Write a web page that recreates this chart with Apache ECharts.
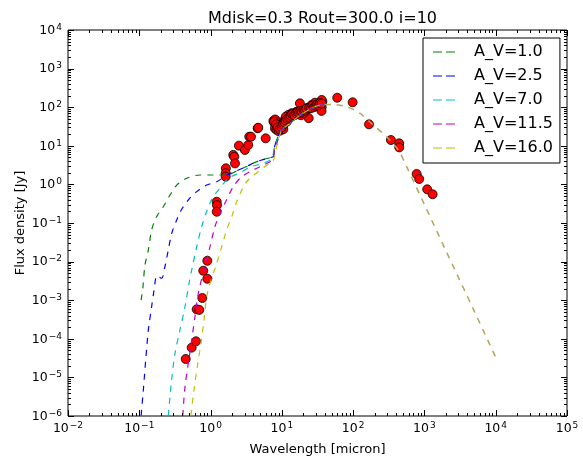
<!DOCTYPE html>
<html><head><meta charset="utf-8">
<script src="https://cdn.jsdelivr.net/npm/echarts@6/dist/echarts.min.js"></script>
<style>html,body{margin:0;padding:0;background:#fff}#c{width:583px;height:459px}</style>
</head><body><div id="c"></div>
<script>
// ---------- data ----------
const chartTitle = 'Mdisk=0.3 Rout=300.0 i=10';
const xName = 'Wavelength [micron]';
const yName = 'Flux density [Jy]';
const seriesNames = ['A_V=1.0', 'A_V=2.5', 'A_V=7.0', 'A_V=11.5', 'A_V=16.0'];
const seriesColors = ['#008000', '#0000ff', '#00bfbf', '#bf00bf', '#bfbf00'];
const mergedColor = '#b3a55a';

// model SEDs  [wavelength micron, flux Jy]
const modelAV1 = [[0.106,1.0e-3],[0.112,2.0e-3],[0.120,8.0e-3],[0.134,0.020],[0.149,0.066],[0.175,0.146],[0.217,0.264],[0.27,0.53],[0.335,0.96],[0.463,1.44],[0.71,1.75],[1.09,1.75],[1.51,1.75]];
const modelAV25 = [[0.104,5e-7],[0.106,1e-6],[0.114,4.7e-6],[0.123,2.8e-5],[0.134,1.7e-4],[0.149,6.8e-4],[0.161,1.8e-3],[0.177,4.3e-3],[0.206,3.7e-3],[0.229,7.4e-3],[0.255,0.02],[0.285,0.054],[0.335,0.12],[0.39,0.22],[0.49,0.40],[0.64,0.65],[0.88,0.96],[1.22,1.17]];
const modelLowAVmid = [[1.7,1.75],[2.5,2.4],[3.2,2.9],[4.0,3.6],[5.2,4.3],[6.8,4.9],[7.6,5.3],[7.9,9.5],[9.4,23]];
const modelAV7 = [[0.25,5e-7],[0.255,1e-6],[0.284,8.5e-6],[0.317,4.2e-5],[0.372,1.7e-4],[0.438,6.8e-4],[0.498,2.7e-3],[0.543,6e-3],[0.638,0.024],[0.75,0.08],[0.90,0.22],[1.09,0.48],[1.35,0.79],[1.77,1.44],[2.58,2.0],[3.77,2.9],[5.5,3.5],[7.2,4.7],[7.8,8],[9.4,22]];
const modelAV115 = [[0.40,5e-7],[0.407,1e-6],[0.438,5.8e-6],[0.487,2.3e-5],[0.543,9.3e-5],[0.604,3.7e-4],[0.673,1.5e-3],[0.83,7.4e-3],[0.98,0.024],[1.15,0.08],[1.36,0.18],[1.68,0.40],[2.08,0.87],[2.73,1.58],[3.97,2.36],[5.8,3.3],[7.3,4.3],[7.9,7.5],[9.5,22]];
const modelAV16 = [[0.52,5e-7],[0.53,1e-6],[0.585,4.7e-6],[0.65,1.9e-5],[0.733,7.6e-5],[0.81,3.1e-4],[0.90,1.5e-3],[1.22,9.1e-3],[1.43,0.024],[1.68,0.066],[1.98,0.145],[2.32,0.35],[2.88,0.87],[3.38,1.3],[3.97,1.7],[5.8,2.9],[7.5,4],[8.1,7],[9.6,22]];
// shared long-wavelength part of all models (where the curves coincide)
const modelTailNear = [[9.9,26],[13,38],[18,62],[25,90],[31,108],[40,117]];
const modelTailFar = [[40,117],[52,118],[81,103],[124,70],[191,34.6],[295,17.2],[429,7.8],[563,2.88],[1000,0.30],[2000,0.0192],[5000,5.2e-4],[10000,3.3e-5]];

// observed photometry [wavelength micron, flux Jy]
const obsOptical = [[0.448,3.0e-5],[0.543,5.9e-5],[0.624,8.6e-5],[0.638,5.8e-4],[0.695,5.6e-4],[0.766,1.14e-3],[0.79,5.8e-3],[0.90,1.05e-2],[0.90,3.6e-3]];
const obsNearIR = [[1.22,0.356],[1.23,0.29],[1.22,0.196],[1.64,2.61],[1.63,1.94],[1.63,1.59],[2.08,5.8],[2.15,5.2],[2.20,3.5],[2.50,10.1],[3.03,7.8],[3.38,10.5],[3.49,17.2],[3.69,17.2],[4.58,28.4],[4.67,29.4],[5.93,15.6]];
const obsSpectrum = [[7.6,44],[7.9,38],[8.2,46],[8.5,40],[8.8,33],[9.1,30],[9.4,28],[9.7,34],[10.0,38],[10.3,31],[10.7,44],[11.1,48],[11.5,52],[12.0,46],[12.5,58],[13.0,55],[13.6,64],[14.2,60],[14.8,68],[15.5,72],[16.2,66],[17.0,78],[17.8,74],[18.7,84],[19.6,80],[20.6,90],[21.6,86],[22.7,96],[23.8,52],[25.0,100],[26.3,108],[27.6,104],[29.0,118],[30.5,112],[32.0,124],[33.6,120],[35.3,132],[37.0,140],
  [8.0,48],[8.0,28.4],[8.4,26],[9.0,24],[9.6,25],[10.5,27],[11.7,42],[13.7,70],[16.1,76],[17.9,126],[26.2,114],[29.1,131],[36.2,154],[36.2,100],[36.0,80],[22.3,85],[12.3,63],[11.4,57],[18.5,62],[20.0,70],
  [7.8,42],[8.3,36],[8.7,30],[9.3,27],[9.9,30],[10.4,36],[10.9,40],[11.3,45],[11.9,50],[12.7,54],[13.3,60],[14.0,66],[15.0,62],[15.8,70],[16.6,74],[17.4,70],[18.2,80],[19.1,76],[20.2,84],[21.1,82],[22.1,92],[24.3,96],[25.6,94],[27.0,110],[28.3,100],[29.8,108],[31.2,118],[32.8,114],[34.4,128],[36.1,124]];
const obsFarIR = [[59.8,176],[98.4,134],[167,36],[339,14.1],[443,11.6],[443,9.1],[778,1.86],[845,1.38],[1094,0.746],[1303,0.555]];

// axis decades
const xDecades = [0.01, 0.1, 1, 10, 100, 1000, 10000, 100000];
const yDecades = [1e-6, 1e-5, 1e-4, 1e-3, 1e-2, 1e-1, 1, 10, 100, 1000, 10000];

// ---------- build ----------
const FONT = 'DejaVu Sans';
function withTail(a, b) { return (b ? a.concat(b) : a).concat(modelTailNear); }
const curves = [
  withTail(modelAV1, modelLowAVmid),
  withTail(modelAV25, modelLowAVmid),
  withTail(modelAV7),
  withTail(modelAV115),
  withTail(modelAV16)
];
function tickItems(decades, axis) {
  const out = [];
  decades.forEach((d, i) => {
    out.push(axis === 'x' ? [d, 1, 1] : [1, d, 1]);
    if (i < decades.length - 1) {
      for (let k = 2; k <= 9; k++) {
        const v = d * k;
        out.push(axis === 'x' ? [v, 1, 0] : [1, v, 0]);
      }
    }
  });
  return out;
}
function supLabel(v) {
  const e = Math.round(Math.log10(v));
  const s = e < 0 ? '\u2212' + (-e) : String(e);
  return '{b|10}{s|' + s + '}';
}
const richLab = {
  b: { fontSize: 12.5, fontFamily: FONT, color: '#000', lineHeight: 14, verticalAlign: 'bottom' },
  s: { fontSize: 9, fontFamily: FONT, color: '#000', lineHeight: 9, verticalAlign: 'top', padding: [0, 0, 0, 1] }
};
const legendIcon = 'path://M0 0H9V1H0Z M13 0H22V1H13Z';
const lineSeries = curves.map((c, i) => ({
  name: seriesNames[i], type: 'line', data: c, symbol: 'none', smooth: 0.3,
  z: 3 + i, clip: true,
  lineStyle: { color: seriesColors[i], width: 1.2, type: [6, 6] },
  itemStyle: { color: seriesColors[i] }
}));
const tailSeries = {
  name: 'merged', type: 'line', data: modelTailFar, symbol: 'none', smooth: 0.3, z: 8, clip: true,
  lineStyle: { color: mergedColor, width: 1.5, type: [6, 6] }
};
const dotStyle = { color: '#ff0000', borderColor: '#000', borderWidth: 0.8, opacity: 1 };
const obsAll = obsOptical.concat(obsNearIR, obsSpectrum, obsFarIR);
const tickRender = (axis) => (params, api) => {
  const cs = params.coordSys;
  const major = api.value(2) === 1;
  const len = major ? 6 : 3;
  const st = { stroke: '#000', lineWidth: 1 };
  if (axis === 'x') {
    const x = Math.round(api.coord([api.value(0), 1])[0]) + 0.5;
    const yb = cs.y + cs.height, yt = cs.y;
    return { type: 'group', children: [
      { type: 'line', shape: { x1: x, y1: yb, x2: x, y2: yb - len }, style: st },
      { type: 'line', shape: { x1: x, y1: yt, x2: x, y2: yt + len }, style: st }
    ]};
  } else {
    const y = Math.round(api.coord([1, api.value(1)])[1]) + 0.5;
    const xl = cs.x, xr = cs.x + cs.width;
    return { type: 'group', children: [
      { type: 'line', shape: { x1: xl, y1: y, x2: xl + len, y2: y }, style: st },
      { type: 'line', shape: { x1: xr, y1: y, x2: xr - len, y2: y }, style: st }
    ]};
  }
};

const chart = echarts.init(document.getElementById('c'), null, { renderer: 'canvas' });
chart.setOption({
  animation: false,
  backgroundColor: '#fff',
  title: { text: chartTitle, left: 317.5, textAlign: 'center', top: 6,
    textStyle: { fontFamily: FONT, fontSize: 16, fontWeight: 'normal', color: '#000' } },
  grid: { left: 68, right: 16, top: 30, bottom: 43, show: true, borderColor: '#000', borderWidth: 1,
    backgroundColor: 'transparent', outerBoundsMode: 'none', containLabel: false },
  legend: {
    orient: 'vertical', left: 423, top: 38, padding: [6, 7, 7, 10], itemGap: 8,
    itemWidth: 22, itemHeight: 1.5, backgroundColor: '#fff', borderColor: '#000', borderWidth: 1,
    data: seriesNames.map(n => ({ name: n, icon: legendIcon })),
    textStyle: { fontFamily: FONT, fontSize: 16, color: '#000', padding: [0, 0, 0, 14], lineHeight: 16 }
  },
  xAxis: {
    type: 'log', logBase: 10, min: 0.01, max: 100000, interval: 1,
    name: xName, nameLocation: 'middle', nameGap: 27, nameMoveOverlap: false,
    nameTextStyle: { fontFamily: FONT, fontSize: 13, color: '#000' },
    axisLine: { show: false }, axisTick: { show: false }, splitLine: { show: false },
    axisLabel: { formatter: supLabel, rich: richLab, margin: 5 }
  },
  yAxis: {
    type: 'log', logBase: 10, min: 1e-6, max: 10000, interval: 1,
    name: yName, nameLocation: 'middle', nameGap: 41, nameRotate: 90, nameMoveOverlap: false,
    nameTextStyle: { fontFamily: FONT, fontSize: 13, color: '#000' },
    axisLine: { show: false }, axisTick: { show: false }, splitLine: { show: false },
    axisLabel: { formatter: supLabel, rich: richLab, margin: 6 }
  },
  series: [
    { name: 'obs', type: 'scatter', data: obsAll, symbol: 'circle', symbolSize: 9, z: 2, itemStyle: dotStyle },
    ...lineSeries,
    tailSeries,
    { type: 'custom', data: tickItems(xDecades, 'x'), renderItem: tickRender('x'), clip: false, z: 10, silent: true },
    { type: 'custom', data: tickItems(yDecades, 'y'), renderItem: tickRender('y'), clip: false, z: 10, silent: true }
  ]
});
</script>
</body></html>
